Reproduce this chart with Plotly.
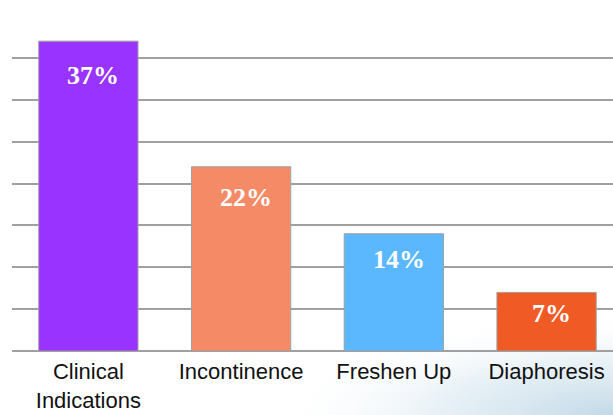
import base64
import plotly.graph_objects as go

categories = ["Clinical<br>Indications", "Incontinence", "Freshen Up", "Diaphoresis"]
values = [37, 22, 14, 7]
labels = ["37%", "22%", "14%", "7%"]
colors = ["#9933FF", "#F58A66", "#5BB8FF", "#F05A24"]
label_drop = [34, 31, 26, 21]

W, H = 613, 415
ML, MR, MT, MB = 12, 0, 16, 64

svg = f'''<svg xmlns="http://www.w3.org/2000/svg" width="{W}" height="{H}" viewBox="0 0 {W} {H}">
<defs><radialGradient id="g" gradientUnits="userSpaceOnUse" cx="{W}" cy="{H}" r="340"
 gradientTransform="translate({W} {H}) scale(1 0.3) translate({-W} {-H})">
<stop offset="0" stop-color="#C2D9E8" stop-opacity="1"/>
<stop offset="0.5" stop-color="#DCEAF2" stop-opacity="0.7"/>
<stop offset="1" stop-color="#FFFFFF" stop-opacity="0"/>
</radialGradient></defs>
<rect width="{W}" height="{H}" fill="#FFFFFF"/>
<rect width="{W}" height="{H}" fill="url(#g)"/>
</svg>'''
src = "data:image/svg+xml;base64," + base64.b64encode(svg.encode()).decode()

pw, ph = W - ML - MR, H - MT - MB

fig = go.Figure(go.Bar(
    x=categories, y=values, width=0.65,
    marker=dict(color=colors, line=dict(color="#A0A0A0", width=1)),
    hoverinfo="skip",
))

for c, v, t, d in zip(categories, values, labels, label_drop):
    fig.add_annotation(x=c, y=v, text=t, showarrow=False, yanchor="middle",
                       yshift=-d, xshift=5,
                       font=dict(family="Liberation Serif, Times New Roman, serif",
                                 size=26, color="white", weight="bold"))

fig.add_layout_image(dict(source=src, xref="paper", yref="paper",
                          x=-ML / pw, y=1 + MT / ph, sizex=W / pw, sizey=H / ph,
                          xanchor="left", yanchor="top", sizing="stretch", layer="below"))

fig.update_layout(
    width=W, height=H,
    margin=dict(l=ML, r=MR, t=MT, b=MB, autoexpand=False),
    paper_bgcolor="white", plot_bgcolor="rgba(0,0,0,0)",
    showlegend=False,
    xaxis=dict(range=[-0.5, 3.435], showgrid=False, zeroline=False, showline=False,
               ticks="", ticklabelstandoff=5, automargin=False,
               tickfont=dict(family="Liberation Sans, Arial, sans-serif", size=22, color="#111111")),
    yaxis=dict(range=[0, 40], dtick=5, showticklabels=False, showgrid=True, automargin=False,
               gridcolor="#A0A0A0", gridwidth=1.5, zeroline=True, zerolinecolor="#A0A0A0",
               zerolinewidth=1.5, showline=False),
)

fig.write_html("out.html")
